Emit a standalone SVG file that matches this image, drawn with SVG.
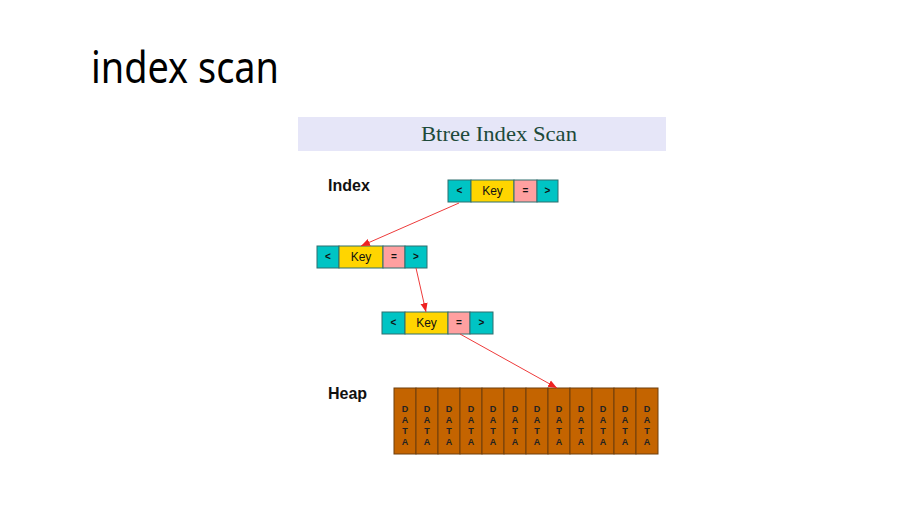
<svg xmlns="http://www.w3.org/2000/svg" width="918" height="507" viewBox="0 0 918 507">
<style>
.c{fill:#00c4c4;stroke:#2f6f6f;stroke-width:1}
.k{fill:#ffd500;stroke:#2f6f6f;stroke-width:1}
.e{fill:#ffa0a0;stroke:#2f6f6f;stroke-width:1}
.s{font-family:"Liberation Sans",Arial,sans-serif;font-size:10px;font-weight:bold;fill:#111;text-anchor:middle}
.kt{font-family:"Liberation Sans",Arial,sans-serif;font-size:12px;fill:#111;text-anchor:middle}
.lbl{font-family:"Liberation Sans",Arial,sans-serif;font-size:16px;font-weight:bold;fill:#111}
.h{fill:#c46400;stroke:#6e3f0c;stroke-width:1}
.d{font-family:"Liberation Sans",Arial,sans-serif;font-size:9px;font-weight:bold;fill:#222;text-anchor:middle}
.ar{stroke:#ee3b3b;stroke-width:1;fill:none;marker-end:url(#ah)}
</style>
<defs>
<marker id="ah" viewBox="0 0 10 10" refX="10" refY="5" markerWidth="9" markerHeight="9" markerUnits="userSpaceOnUse" orient="auto">
<path d="M0,1 L10,5 L0,9 z" fill="#ee2222"/>
</marker>
</defs>
<rect width="918" height="507" fill="#ffffff"/>
<text x="91" y="83" font-family="'Noto Sans','Open Sans',sans-serif" font-size="43" fill="#000" textLength="188" lengthAdjust="spacingAndGlyphs">index scan</text>
<g id="header">
<rect x="298" y="117" width="368" height="34" fill="#e6e6f8"/>
<text x="499" y="141" font-family="'Liberation Serif','DejaVu Serif',serif" font-size="22" fill="#1d4a3a" text-anchor="middle" textLength="156" lengthAdjust="spacingAndGlyphs">Btree Index Scan</text>
</g>
<text class="lbl" x="328" y="191">Index</text>
<text class="lbl" x="328" y="399">Heap</text>
<g id="node1">
<rect class="c" x="448" y="180" width="23" height="22"/>
<rect class="k" x="471" y="180" width="43" height="22"/>
<rect class="e" x="514" y="180" width="23" height="22"/>
<rect class="c" x="537" y="180" width="21" height="22"/>
<text class="s" x="459.5" y="194">&lt;</text>
<text class="kt" x="492.5" y="195">Key</text>
<text class="s" x="525.5" y="194">=</text>
<text class="s" x="547.5" y="194">&gt;</text>
</g>
<g id="node2">
<rect class="c" x="317" y="246" width="22" height="22"/>
<rect class="k" x="339" y="246" width="44" height="22"/>
<rect class="e" x="383" y="246" width="22" height="22"/>
<rect class="c" x="405" y="246" width="22" height="22"/>
<text class="s" x="328" y="260">&lt;</text>
<text class="kt" x="361" y="261">Key</text>
<text class="s" x="394" y="260">=</text>
<text class="s" x="416" y="260">&gt;</text>
</g>
<g id="node3">
<rect class="c" x="382" y="312" width="23" height="22"/>
<rect class="k" x="405" y="312" width="43" height="22"/>
<rect class="e" x="448" y="312" width="22" height="22"/>
<rect class="c" x="470" y="312" width="23" height="22"/>
<text class="s" x="393.5" y="326">&lt;</text>
<text class="kt" x="426.5" y="327">Key</text>
<text class="s" x="459" y="326">=</text>
<text class="s" x="481.5" y="326">&gt;</text>
</g>
<g id="heap">
<rect class="h" x="394" y="388" width="22" height="66"/>
<rect class="h" x="416" y="388" width="22" height="66"/>
<rect class="h" x="438" y="388" width="22" height="66"/>
<rect class="h" x="460" y="388" width="22" height="66"/>
<rect class="h" x="482" y="388" width="22" height="66"/>
<rect class="h" x="504" y="388" width="22" height="66"/>
<rect class="h" x="526" y="388" width="22" height="66"/>
<rect class="h" x="548" y="388" width="22" height="66"/>
<rect class="h" x="570" y="388" width="22" height="66"/>
<rect class="h" x="592" y="388" width="22" height="66"/>
<rect class="h" x="614" y="388" width="22" height="66"/>
<rect class="h" x="636" y="388" width="22" height="66"/>
<g class="d">
<text x="405" y="412">D</text><text x="405" y="423">A</text><text x="405" y="434">T</text><text x="405" y="445">A</text>
<text x="427" y="412">D</text><text x="427" y="423">A</text><text x="427" y="434">T</text><text x="427" y="445">A</text>
<text x="449" y="412">D</text><text x="449" y="423">A</text><text x="449" y="434">T</text><text x="449" y="445">A</text>
<text x="471" y="412">D</text><text x="471" y="423">A</text><text x="471" y="434">T</text><text x="471" y="445">A</text>
<text x="493" y="412">D</text><text x="493" y="423">A</text><text x="493" y="434">T</text><text x="493" y="445">A</text>
<text x="515" y="412">D</text><text x="515" y="423">A</text><text x="515" y="434">T</text><text x="515" y="445">A</text>
<text x="537" y="412">D</text><text x="537" y="423">A</text><text x="537" y="434">T</text><text x="537" y="445">A</text>
<text x="559" y="412">D</text><text x="559" y="423">A</text><text x="559" y="434">T</text><text x="559" y="445">A</text>
<text x="581" y="412">D</text><text x="581" y="423">A</text><text x="581" y="434">T</text><text x="581" y="445">A</text>
<text x="603" y="412">D</text><text x="603" y="423">A</text><text x="603" y="434">T</text><text x="603" y="445">A</text>
<text x="625" y="412">D</text><text x="625" y="423">A</text><text x="625" y="434">T</text><text x="625" y="445">A</text>
<text x="647" y="412">D</text><text x="647" y="423">A</text><text x="647" y="434">T</text><text x="647" y="445">A</text>
</g>
</g>
<g id="connectors">
<line class="ar" x1="459" y1="203" x2="361" y2="246"/>
<line class="ar" x1="416" y1="268" x2="426" y2="312"/>
<line class="ar" x1="460" y1="334" x2="557" y2="388"/>
</g>
</svg>
